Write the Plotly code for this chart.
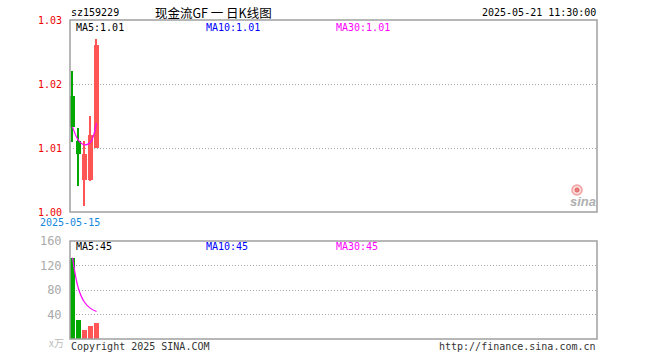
import plotly.graph_objects as go

W, H = 660, 360

# ---- data ----
days = [0, 1, 2, 3, 4]
opens = [1.0181, 1.0111, 1.0050, 1.0050, 1.0100]
highs = [1.0221, 1.0131, 1.0111, 1.0150, 1.0270]
lows = [1.0110, 1.0040, 1.0010, 1.0049, 1.0100]
closes = [1.0133, 1.0091, 1.0091, 1.0120, 1.0261]
price_ma = [1.0133, 1.0112, 1.0105, 1.0109, 1.0139]
volumes = [133, 31, 15, 21, 26]
volume_ma = [133, 82, 60, 50, 45]
price_ticks = [1.00, 1.01, 1.02, 1.03]
price_tick_labels = ["1.00", "1.01", "1.02", "1.03"]
vol_ticks = [40, 80, 120, 160]
vol_tick_labels = ["40", "80", "120", "160"]
code = "sz159229"
title = "现金流GF 一 日K线图"
stamp = "2025-05-21 11:30:00"
first_date = "2025-05-15"
ma_price_text = ["MA5:1.01", "MA10:1.01", "MA30:1.01"]
ma_vol_text = ["MA5:45", "MA10:45", "MA30:45"]

RED = "#ff5555"
GREEN = "#00a800"
MAG = "#ff00ff"
BLUE = "#0000ff"
FRAME = "#a0a0a0"
GRID = "#a8a8a8"
MONO = "DejaVu Sans Mono"

# pixel geometry of the reference
L, R = 70, 597
MT, MB = 20, 212
VT, VB = 241, 339


def px(x):
    return x / W


def py(y):
    return 1 - y / H


colors = [RED if c >= o else GREEN for o, c in zip(opens, closes)]
body_base = [min(o, c) for o, c in zip(opens, closes)]
body_h = [abs(c - o) for o, c in zip(opens, closes)]
wick_h = [h - l for h, l in zip(highs, lows)]

fig = go.Figure()
# wicks
fig.add_trace(go.Bar(x=days, y=wick_h, base=lows, width=0.17, marker=dict(color=colors, line=dict(width=0)),
                     xaxis="x", yaxis="y", showlegend=False))
# bodies
fig.add_trace(go.Bar(x=days, y=body_h, base=body_base, width=0.84, marker=dict(color=colors, line=dict(width=0)),
                     xaxis="x", yaxis="y", showlegend=False))
# price MA
fig.add_trace(go.Scatter(x=days, y=price_ma, mode="lines", line=dict(color=MAG, width=1.2, shape="spline"),
                         xaxis="x", yaxis="y", showlegend=False))
# volume
fig.add_trace(go.Bar(x=days, y=volumes, width=0.84, marker=dict(color=colors, line=dict(width=0)),
                     xaxis="x2", yaxis="y2", showlegend=False))
fig.add_trace(go.Scatter(x=days, y=volume_ma, mode="lines", line=dict(color=MAG, width=1.2, shape="spline"),
                         xaxis="x2", yaxis="y2", showlegend=False))

xr = [-2.5 / 6, (R - L - 2.5) / 6]
xcommon = dict(range=xr, domain=[px(L), px(R)], showticklabels=False, showgrid=False, zeroline=False,
               showline=False, fixedrange=True, automargin=False)

fig.update_layout(
    width=W, height=H, margin=dict(l=0, r=0, t=0, b=0, autoexpand=False),
    paper_bgcolor="white", plot_bgcolor="white", barmode="overlay", bargap=0, showlegend=False,
    hovermode=False,
    xaxis=dict(**xcommon, anchor="y"),
    xaxis2=dict(**xcommon, anchor="y2"),
    yaxis=dict(domain=[py(MB), py(MT)], range=[1.00, 1.03], tickvals=price_ticks, ticktext=price_tick_labels,
               tickfont=dict(family=MONO, size=10, color="#ee0000"), ticks="outside", ticklen=5,
               tickcolor="rgba(0,0,0,0)", showgrid=True, gridcolor=GRID, griddash="1px,2px", gridwidth=1,
               zeroline=False, showline=False, anchor="x", automargin=False, fixedrange=True),
    yaxis2=dict(domain=[py(VB), py(VT)], range=[0, 160], tickvals=vol_ticks, ticktext=vol_tick_labels,
                tickfont=dict(family=MONO, size=12, color="#aaaaaa"), ticks="outside", ticklen=5,
                tickcolor="rgba(0,0,0,0)", showgrid=True, gridcolor=GRID, griddash="1px,2px", gridwidth=1,
                zeroline=False, showline=False, anchor="x2", automargin=False, fixedrange=True),
)

shapes = [
    dict(type="rect", xref="paper", yref="paper", x0=px(L), x1=px(R), y0=py(MB), y1=py(MT),
         line=dict(color=FRAME, width=1.5), layer="above"),
    dict(type="rect", xref="paper", yref="paper", x0=px(L), x1=px(R), y0=py(VB), y1=py(VT),
         line=dict(color=FRAME, width=1.5), layer="above"),
    # sina logo eye
    dict(type="circle", xref="paper", yref="paper", x0=px(572), x1=px(582), y0=py(195), y1=py(185),
         line=dict(color="#f4a0a0", width=1.5), fillcolor="rgba(240,150,150,0.35)"),
    dict(type="circle", xref="paper", yref="paper", x0=px(575), x1=px(579), y0=py(192), y1=py(188),
         line=dict(color="#e06060", width=1), fillcolor="#e88080"),
]
fig.update_layout(shapes=shapes)


def ann(text, x, y, color="#000000", size=10, xanchor="left", family=MONO, **kw):
    fig.add_annotation(text=text, x=px(x), y=py(y), xref="paper", yref="paper", showarrow=False,
                       xanchor=xanchor, yanchor="middle", font=dict(family=family, size=size, color=color),
                       borderpad=0, **kw)


ann(code, 70, 13)
ann(title, 213, 12.5, size=12.5, xanchor="center", family="Noto Sans CJK SC")
ann(stamp, 597, 13, xanchor="right")
ann(ma_price_text[0], 75, 27.5)
ann(ma_price_text[1], 205, 27.5, color=BLUE)
ann(ma_price_text[2], 335, 27.5, color=MAG)
ann(ma_vol_text[0], 75, 246.5)
ann(ma_vol_text[1], 205, 246.5, color=BLUE)
ann(ma_vol_text[2], 335, 246.5, color=MAG)
ann(first_date, 70, 222, color="#1188dd", xanchor="center")
ann("x万", 65, 342, color="#bbbbbb", size=10, xanchor="right", family="Noto Sans CJK SC")
ann("Copyright 2025 SINA.COM", 70, 346, color="#333333")
ann("http://finance.sina.com.cn", 597, 346, color="#333333", xanchor="right")
ann("<b><i>sina</i></b>", 597, 201, color="#b0b0b0", size=13, xanchor="right", family="Liberation Sans")

fig.write_html("out.html", config={"displayModeBar": False},
               post_script="document.body.style.margin='0';")
